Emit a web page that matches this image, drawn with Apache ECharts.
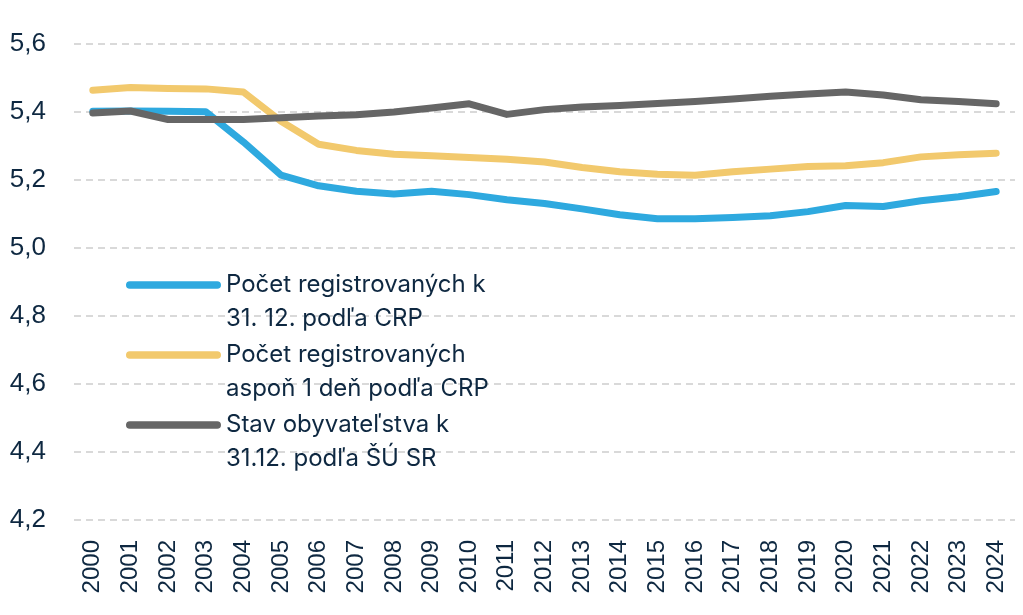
<!DOCTYPE html>
<html>
<head>
<meta charset="utf-8">
<script src="https://cdn.jsdelivr.net/npm/echarts@6/dist/echarts.min.js"></script>
<style>
  html, body { margin: 0; padding: 0; background: #fff; }
  #main { width: 1023px; height: 615px; }
</style>
</head>
<body>
<div id="main"></div>
<script>
// roky
var years = ['2000','2001','2002','2003','2004','2005','2006','2007','2008','2009','2010','2011','2012',
             '2013','2014','2015','2016','2017','2018','2019','2020','2021','2022','2023','2024'];

// Počet registrovaných k 31. 12. podľa CRP (mil.)
var crpKoncom = [5.402, 5.403, 5.402, 5.401, 5.312, 5.214, 5.183, 5.167, 5.159, 5.167, 5.157, 5.142, 5.131,
                 5.115, 5.098, 5.086, 5.086, 5.090, 5.095, 5.107, 5.125, 5.122, 5.139, 5.151, 5.166];

// Počet registrovaných aspoň 1 deň podľa CRP
var crpAspon1 = [5.464, 5.472, 5.469, 5.468, 5.459, 5.373, 5.305, 5.287, 5.276, 5.271, 5.266, 5.261, 5.253,
                 5.237, 5.224, 5.217, 5.214, 5.224, 5.232, 5.240, 5.242, 5.251, 5.268, 5.274, 5.279];

// Stav obyvateľstva k 31.12. podľa ŠÚ SR
var suSr = [5.397, 5.403, 5.378, 5.378, 5.378, 5.383, 5.388, 5.392, 5.400, 5.412, 5.424, 5.393, 5.407,
            5.415, 5.419, 5.425, 5.431, 5.438, 5.446, 5.453, 5.459, 5.450, 5.436, 5.431, 5.424];

var seriesNames = [
    'Počet registrovaných k\n31. 12. podľa CRP',
    'Počet registrovaných\naspoň 1 deň podľa CRP',
    'Stav obyvateľstva k\n31.12. podľa ŠÚ SR'
];
var seriesColors = ['#2ea9df', '#f2c96d', '#666666'];

var textColor = '#0e2841';

var myChart = echarts.init(document.getElementById('main'));

function lineSeries(name, data, color) {
    return {
        name: name,
        type: 'line',
        data: data,
        symbol: 'none',
        color: color,
        lineStyle: { width: 7, color: color, cap: 'round', join: 'round' }
    };
}

var option = {
    animation: false,
    grid: { left: 74, right: 8, top: 44, bottom: 95 },
    legend: {
        orient: 'vertical',
        left: 126,
        top: 234,
        padding: 0,
        itemWidth: 95,
        itemHeight: 8,
        itemGap: -32,
        icon: 'path://M4,0 H96 A4,4 0 0 1 96,8 H4 A4,4 0 0 1 4,0 Z',
        // prázdny prvý riadok, aby ikona sedela na prvom riadku textu
        formatter: function (name) { return '\n' + name; },
        textStyle: { fontFamily: 'Inter', fontSize: 24, color: textColor, lineHeight: 34 },
        data: seriesNames
    },
    xAxis: {
        type: 'category',
        data: years,
        boundaryGap: true,
        axisLine: { show: false },
        axisTick: { show: false },
        axisLabel: {
            rotate: 90,
            margin: 20,
            fontFamily: 'Liberation Sans',
            fontSize: 24,
            color: textColor
        }
    },
    yAxis: {
        type: 'value',
        min: 4.2,
        max: 5.6,
        interval: 0.2,
        axisLine: { show: false },
        axisTick: { show: false },
        axisLabel: {
            margin: 28,
            fontFamily: 'Liberation Sans',
            fontSize: 26,
            color: textColor,
            formatter: function (v) { return v.toFixed(1).replace('.', ','); }
        },
        splitLine: {
            lineStyle: { color: '#d9d9d9', width: 2, type: [7, 5] }
        }
    },
    series: [
        lineSeries(seriesNames[0], crpKoncom, seriesColors[0]),
        lineSeries(seriesNames[1], crpAspon1, seriesColors[1]),
        lineSeries(seriesNames[2], suSr, seriesColors[2])
    ]
};

myChart.setOption(option);
</script>
</body>
</html>
